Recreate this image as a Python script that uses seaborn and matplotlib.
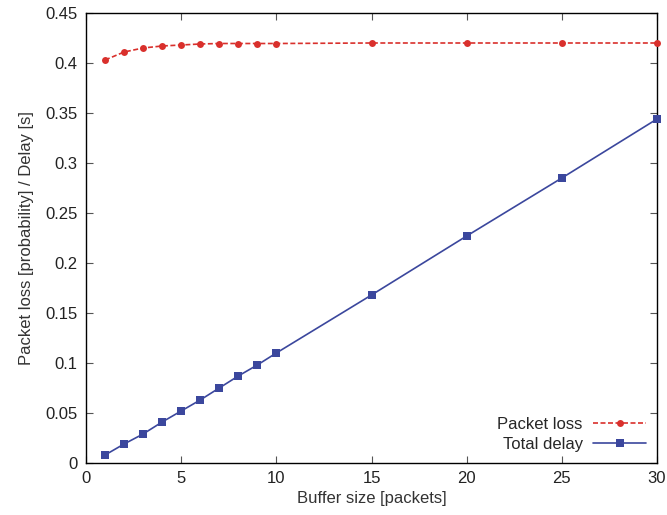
import pandas as pd
import matplotlib
matplotlib.use("Agg")
import matplotlib.pyplot as plt
import seaborn as sns

sns.set_theme(style="white")
plt.rcParams["font.family"] = ["Liberation Sans", "DejaVu Sans"]

# data
buffer_size = [1, 2, 3, 4, 5, 6, 7, 8, 9, 10, 15, 20, 25, 30]
packet_loss = [0.403, 0.411, 0.415, 0.417, 0.418, 0.419, 0.4195, 0.4195,
               0.4195, 0.4195, 0.42, 0.42, 0.42, 0.42]
total_delay = [0.008, 0.019, 0.029, 0.041, 0.052, 0.063, 0.075, 0.087,
               0.098, 0.110, 0.168, 0.227, 0.285, 0.344]
x_ticks = [0, 5, 10, 15, 20, 25, 30]
y_ticks = [0, 0.05, 0.1, 0.15, 0.2, 0.25, 0.3, 0.35, 0.4, 0.45]
y_tick_labels = ["0", "0.05", "0.1", "0.15", "0.2", "0.25", "0.3", "0.35", "0.4", "0.45"]

df = pd.DataFrame({"buffer": buffer_size, "loss": packet_loss, "delay": total_delay})

fig = plt.figure(figsize=(6.67, 5.15), dpi=100)
ax = fig.add_axes([86 / 667, 52 / 515, 571 / 667, 450 / 515])

sns.lineplot(data=df, x="buffer", y="loss", ax=ax, color="#d9302c", linestyle=(0, (3, 1.5)),
             linewidth=1.2, marker="o", markersize=5, markeredgewidth=0,
             label="Packet loss", clip_on=False, zorder=3)
sns.lineplot(data=df, x="buffer", y="delay", ax=ax, color="#3b479d", linestyle="-",
             linewidth=1.2, marker="s", markersize=6, markeredgewidth=0,
             label="Total delay", clip_on=False, zorder=3)

ax.set_xlim(0, 30)
ax.set_ylim(0, 0.45)
ax.set_xticks(x_ticks)
ax.set_xticklabels([str(t) for t in x_ticks])
ax.set_yticks(y_ticks)
ax.set_yticklabels(y_tick_labels)
ax.tick_params(direction="in", length=5, width=0.8, colors="#555555",
               labelcolor="#222222", labelsize=12, top=True, right=True,
               bottom=True, left=True, pad=6)
for side in ax.spines.values():
    side.set_color("black")
    side.set_linewidth(1.0)

ax.set_xlabel("Buffer size [packets]", fontsize=12, color="#333333", labelpad=3)
ax.set_ylabel("Packet loss [probability] / Delay [s]", fontsize=12, color="#333333", labelpad=8)

ax.legend(loc="lower right", frameon=False, markerfirst=False, fontsize=12,
          handlelength=3.2, handletextpad=0.6, borderaxespad=0.25,
          labelspacing=0.3, bbox_to_anchor=(1.0, 0.0))

fig.savefig("out.png", dpi=100)
